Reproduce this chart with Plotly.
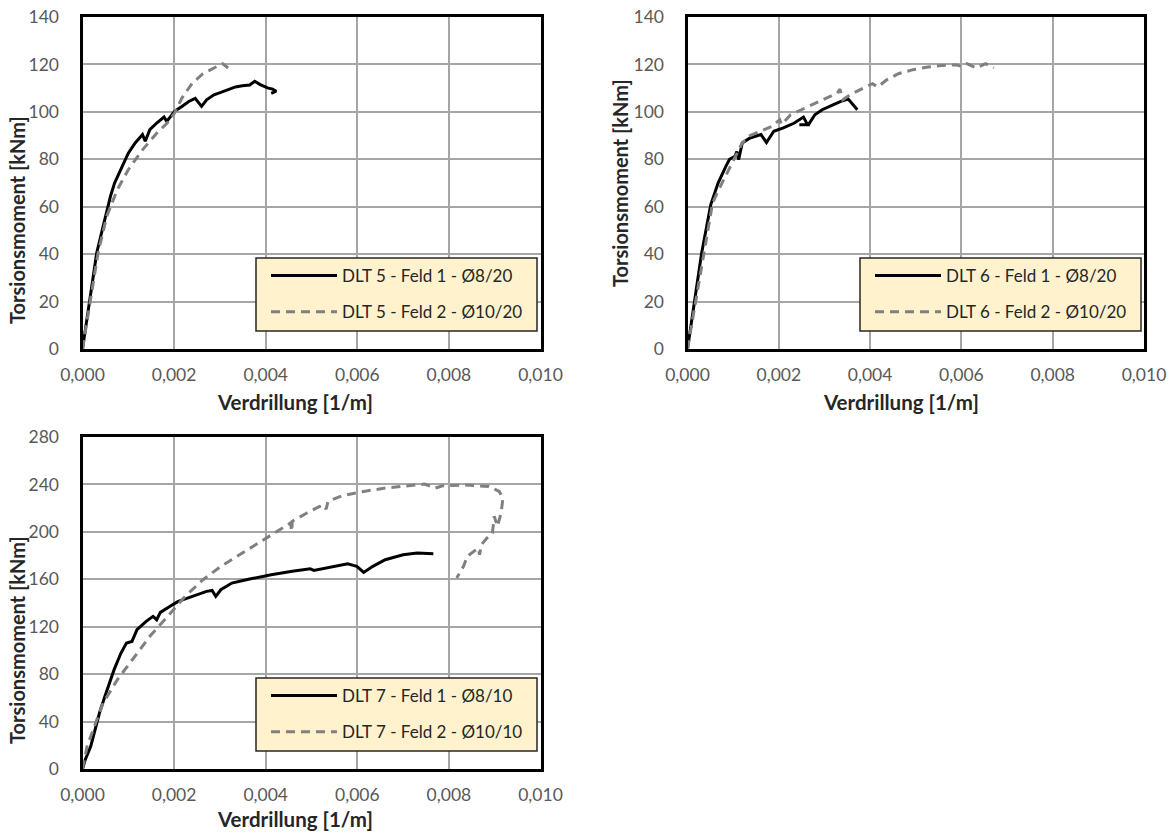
import plotly.graph_objects as go

# ---------------- data ----------------
# DLT 5
dlt5_f1_x = [0, 0.00031, 0.00045, 0.00061, 0.0007, 0.00084, 0.001, 0.00115, 0.00131, 0.00137, 0.00147,
             0.00162, 0.00178, 0.00184, 0.00193, 0.00201, 0.00217, 0.00232, 0.00246, 0.0026, 0.00271,
             0.00287, 0.00302, 0.00318, 0.00334, 0.00349, 0.00365, 0.00376, 0.00388, 0.00404, 0.00415,
             0.00423, 0.00412]
dlt5_f1_y = [0, 40.5, 51.7, 64.4, 70, 75.6, 82.6, 86.9, 90.4, 87.6, 92.5,
             95.3, 97.8, 96, 98.1, 100.2, 102.3, 104.4, 105.7, 102.3, 105.1,
             107.2, 108.2, 109.4, 110.5, 111.0, 111.3, 112.9, 111.5, 110.1, 109.6,
             108.7, 107.8]
dlt5_f2_x = [0, 0.00034, 0.00053, 0.00076, 0.001, 0.00131, 0.00162, 0.00185, 0.00201, 0.00217,
             0.0024, 0.00263, 0.00287, 0.00306, 0.00318]
dlt5_f2_y = [0, 40.5, 56, 67.2, 75.6, 84, 91, 95.3, 99.5, 105.8,
             112.2, 116.1, 118.5, 120.3, 118.5]

# DLT 6
dlt6_f1_x = [0, 0.00031, 0.00051, 0.00067, 0.00084, 0.00092, 0.00104, 0.00108, 0.00112, 0.0012,
             0.00137, 0.00161, 0.00173, 0.00189, 0.0021, 0.00234, 0.00254, 0.00263, 0.00245, 0.00265,
             0.00279, 0.00295, 0.00315, 0.00336, 0.00352, 0.00372]
dlt6_f1_y = [0, 40.5, 60.9, 70, 77, 80, 81.2, 83.3, 79.8, 86.9,
             89, 90.4, 87.1, 91.8, 93.2, 95.3, 97.8, 94.6, 94.6, 94.6,
             98.8, 100.9, 102.6, 104.4, 105.4, 100.9]
dlt6_f2_x = [0, 0.00039, 0.00055, 0.00072, 0.00088, 0.00104, 0.0012, 0.00137, 0.00161, 0.00185,
             0.00202, 0.00206, 0.00226, 0.0025, 0.00275, 0.00299, 0.00328, 0.00334, 0.0034, 0.00356,
             0.0038, 0.00405, 0.00417, 0.00437, 0.00462, 0.00494, 0.00527, 0.00559, 0.00588, 0.006,
             0.00612, 0.00633, 0.00653, 0.00671]
dlt6_f2_y = [0, 44, 61.6, 68.6, 74.9, 81.2, 86.9, 90, 91.8, 93.9,
             96.7, 94.6, 98.8, 100.9, 103, 105.1, 107.9, 109.6, 105.1, 107.2,
             109.6, 111.9, 110.5, 113.6, 116.1, 117.8, 118.9, 119.6, 119.8, 119.2,
             120.3, 118.5, 120.3, 118.5]

# DLT 7
dlt7_f1_x = [0, 0.00006, 0.00018, 0.00028, 0.00037, 0.00049, 0.00061, 0.00069, 0.00084, 0.00096,
             0.00108, 0.00119, 0.00139, 0.00154, 0.00162, 0.0017, 0.00193, 0.00209, 0.0024, 0.00271,
             0.00283, 0.00291, 0.00302, 0.00326, 0.00365, 0.00412, 0.00458, 0.00497, 0.00505, 0.00544,
             0.00579, 0.00599, 0.00614, 0.00634, 0.00661, 0.007, 0.00731, 0.00766]
dlt7_f1_y = [0, 7.9, 19.1, 33.2, 47.2, 61.3, 75.3, 83.8, 97.8, 106.2,
             107.6, 117.5, 124.5, 128.7, 125.9, 132.1, 137.7, 141.4, 145.6, 149.8,
             150.6, 145.6, 151.2, 156.8, 160.2, 163.9, 166.7, 168.9, 167.5, 170.3,
             173.1, 170.9, 165.8, 170.9, 176.5, 180.7, 182.2, 181.6]
dlt7_f2_x = [0, 0.0001, 0.00026, 0.00045, 0.00076, 0.00108, 0.00147, 0.00186, 0.00224, 0.00263,
             0.00302, 0.00349, 0.00396, 0.00443, 0.00454, 0.00457, 0.00458, 0.0049, 0.00525, 0.00532,
             0.00536, 0.00567, 0.00614, 0.00661, 0.00708, 0.00747, 0.0077, 0.00786, 0.00832, 0.00887,
             0.0091, 0.00918, 0.00914, 0.00906, 0.00899, 0.00895, 0.00883, 0.00871, 0.00867, 0.00864,
             0.0084, 0.00832, 0.00817]
dlt7_f2_y = [0, 19.1, 36, 55.6, 75.3, 92.2, 111.9, 128.7, 145.6, 159.6,
             170.9, 182.1, 193.4, 204.7, 207.5, 200.4, 208.9, 215.9, 222.9, 219.2,
             225.7, 230.5, 234.1, 236.9, 238.9, 240.3, 236.9, 238.9, 239.5, 238.3,
             234.1, 228.5, 215.9, 204.7, 213.1, 199, 194.8, 189.2, 180.7, 186.3,
             179.3, 170.9, 161.1]

names = [
    ("DLT 5 - Feld 1 - Ø8/20", "DLT 5 - Feld 2 - Ø10/20"),
    ("DLT 6 - Feld 1 - Ø8/20", "DLT 6 - Feld 2 - Ø10/20"),
    ("DLT 7 - Feld 1 - Ø8/10", "DLT 7 - Feld 2 - Ø10/10"),
]
x_ticks = [0, 0.002, 0.004, 0.006, 0.008, 0.010]
x_title = "Verdrillung [1/m]"
y_title = "Torsionsmoment [kNm]"

# ---------------- figure ----------------
W, H = 1173, 834
FONT = "Lato, 'Open Sans', sans-serif"

def px(v):
    return v / W

def py(v):
    return 1 - v / H

panels = [
    dict(x0=82.5, x1=540.5, y0=17, y1=349, ymax=140, dy=20, legbox=(256, 258, 537, 331),
         xt=(295, 402), yt=(17, 220),
         data=[(dlt5_f1_x, dlt5_f1_y), (dlt5_f2_x, dlt5_f2_y)]),
    dict(x0=687.5, x1=1144, y0=17, y1=349, ymax=140, dy=20, legbox=(860, 258, 1141, 331),
         xt=(901, 402), yt=(620, 183),
         data=[(dlt6_f1_x, dlt6_f1_y), (dlt6_f2_x, dlt6_f2_y)]),
    dict(x0=82.5, x1=540.5, y0=437, y1=769, ymax=280, dy=40, legbox=(256, 678, 537, 751),
         xt=(295, 819), yt=(17, 640),
         data=[(dlt7_f1_x, dlt7_f1_y), (dlt7_f2_x, dlt7_f2_y)]),
]

fig = go.Figure()
layout = dict(
    width=W, height=H, margin=dict(l=0, r=0, t=0, b=0, autoexpand=False),
    paper_bgcolor="white", plot_bgcolor="white",
    separators=",.", showlegend=True,
    font=dict(family=FONT, color="#595959", size=17.5),
    shapes=[], annotations=[],
)
title_font = dict(family=FONT, color="#262626", weight="bold")

for i, p in enumerate(panels):
    n = "" if i == 0 else str(i + 1)
    xa, ya = "x" + n, "y" + n
    leg = "legend" + n
    (x1d, y1d), (x2d, y2d) = p["data"]
    fig.add_trace(go.Scatter(x=x1d, y=y1d, mode="lines", name=names[i][0],
                             line=dict(color="black", width=3), xaxis=xa, yaxis=ya,
                             legend=leg, legendgroup=f"a{i}"))
    fig.add_trace(go.Scatter(x=x2d, y=y2d, mode="lines", name=names[i][1],
                             line=dict(color="#808080", width=3, dash="9px,6px"), xaxis=xa, yaxis=ya,
                             legend=leg, legendgroup=f"b{i}"))
    axcommon = dict(showgrid=True, gridcolor="#A6A6A6", gridwidth=2, automargin=False,
                    showline=True, linecolor="black", linewidth=3, mirror=True,
                    zeroline=False, ticks="", tickfont=dict(family=FONT, size=17.5, color="#595959"))
    layout["xaxis" + n] = dict(axcommon, domain=[px(p["x0"]), px(p["x1"])], range=[0, 0.010],
                               tickvals=x_ticks, tickformat=".3f", anchor=ya,
                               ticklabelstandoff=8)
    layout["yaxis" + n] = dict(axcommon, domain=[py(p["y1"]), py(p["y0"])], range=[0, p["ymax"]],
                               dtick=p["dy"], tick0=0, anchor=xa,
                               ticklabelstandoff=17)
    # axis titles (placed as in the original, slightly off-centre)
    layout["annotations"].append(dict(text=x_title, xref="paper", yref="paper",
                                      x=px(p["xt"][0]), y=py(p["xt"][1]), xanchor="center", yanchor="middle",
                                      showarrow=False, font=dict(title_font, size=20.5)))
    layout["annotations"].append(dict(text=y_title, xref="paper", yref="paper", textangle=-90,
                                      x=px(p["yt"][0]), y=py(p["yt"][1]), xanchor="center", yanchor="middle",
                                      showarrow=False, font=dict(title_font, size=20)))
    bx0, by0, bx1, by1 = p["legbox"]
    layout["shapes"].append(dict(type="rect", xref="paper", yref="paper",
                                 x0=px(bx0), x1=px(bx1), y0=py(by1), y1=py(by0),
                                 fillcolor="#FFF2CC", line=dict(color="#262626", width=1.5),
                                 layer="above"))
    layout[leg] = dict(x=px(bx0 + 10), y=py(by0 + 0), xanchor="left", yanchor="top",
                       bgcolor="rgba(0,0,0,0)", borderwidth=0,
                       font=dict(family=FONT, size=17, color="#262626"),
                       traceorder="grouped", tracegroupgap=11, itemwidth=66)

fig.update_layout(**layout)
fig.write_html("out.html", post_script="document.body.style.margin='0';",
               config={"displayModeBar": False})
